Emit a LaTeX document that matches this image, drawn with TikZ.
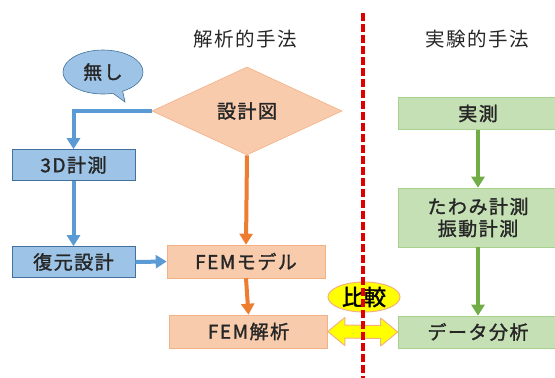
\documentclass[tikz,border=0pt]{standalone}
\usepackage{fontspec}
\setmainfont{Noto Sans CJK JP}[LetterSpace=8, AutoFakeBold=1.5]
\newfontfamily\cmpfont{Noto Sans CJK JP}[AutoFakeBold=2]
\usetikzlibrary{shapes.geometric,shapes.callouts,arrows.meta,calc}
\definecolor{bfill}{HTML}{9DC3E6}
\definecolor{bline}{HTML}{41719C}
\definecolor{barr}{HTML}{5B9BD5}
\definecolor{ofill}{HTML}{F8CBAD}
\definecolor{oline}{HTML}{F4B183}
\definecolor{oarr}{HTML}{ED7D31}
\definecolor{gfill}{HTML}{C5E0B4}
\definecolor{gline}{HTML}{A9D18E}
\definecolor{garr}{HTML}{70AD47}
\definecolor{txt}{HTML}{262626}
\definecolor{ylw}{HTML}{FFFF00}
\definecolor{yline}{HTML}{F4B183}
\definecolor{rdash}{HTML}{E00000}
\tikzset{
  lbl/.style={font=\fontsize{19}{22}\selectfont, text=txt},
  bluebox/.style={lbl, draw=bline, line width=0.6pt, fill=bfill, minimum width=123pt, minimum height=31pt, inner sep=0pt},
  orbox/.style={lbl, draw=oline, line width=0.6pt, fill=ofill, minimum width=158pt, minimum height=33pt, inner sep=0pt},
  grbox/.style={lbl, draw=gline, line width=0.6pt, fill=gfill, inner sep=0pt},
  arr/.style={line width=4pt, -{Triangle[width=13pt,length=11pt]}},
  barrow/.style={arr, draw=barr},
  oarrow/.style={arr, draw=oarr},
  garrow/.style={arr, draw=garr},
}
\begin{document}
\begin{tikzpicture}[x=1pt,y=-1pt]
\useasboundingbox (0,0) rectangle (555,378);
% titles
\node[lbl, font=\fontsize{19.5}{22}\selectfont] (t1) at (245,39) {解析的手法};
\node[lbl, font=\fontsize{19.5}{22}\selectfont] (t2) at (477,39) {実験的手法};
% left column
\node[bluebox] (m3d) at (73.5,165) {\bfseries 3D計測};
\node[bluebox] (rest) at (73.5,262) {\bfseries 復元設計};
% centre column
\node[lbl, diamond, aspect=2.15, fill=ofill, draw=oline, line width=0.6pt, minimum width=190pt, minimum height=88pt, inner sep=0pt] (plan) at (247,111) {\bfseries 設計図};
\node[orbox] (femm) at (246,261.5) {\bfseries FEMモデル};
\node[orbox] (fema) at (248.5,331.5) {\bfseries FEM解析};
% right column
\node[grbox, minimum width=160pt, minimum height=32pt] (meas) at (478,113.5) {\bfseries 実測};
\node[grbox, minimum width=160pt, minimum height=59pt, align=center, font=\fontsize{19}{22}\selectfont\bfseries] (defl) at (478,217.5) {たわみ計測\\振動計測};
\node[grbox, minimum width=160pt, minimum height=32pt] (data) at (478,332) {\bfseries データ分析};
% bubble
\node[lbl, ellipse callout, fill=bfill, draw=bline, line width=0.6pt, minimum width=80pt, minimum height=44pt, inner sep=0pt, callout absolute pointer={(125,102)}] (none) at (103,72) {\bfseries 無し};
% connectors
\draw[barrow] (plan.west) -| (m3d.north);
\draw[barrow] (m3d.south) -- (rest.north);
\draw[barrow] (rest.east) -- (femm.west);
\draw[oarrow] (plan.south) -- (femm.north);
\draw[oarrow] (femm.south) -- (fema.north);
\draw[garrow] (meas.south) -- (defl.north);
\draw[garrow] (defl.south) -- (data.north);
% comparison arrow
\draw[fill=ylw, draw=yline, line width=1pt, line join=round]
  (fema.east) -- ++(17,-14) -- ++(0,7.5) -- ($(data.west)+(-17,-6.5)$) -- ++(0,-7.5) -- (data.west)
  -- ++(-17,14) -- ++(0,-7.5) -- ($(fema.east)+(17,6.5)$) -- ++(0,7.5) -- cycle;
\node[ellipse, fill=ylw, draw=yline, line width=1pt, minimum width=72pt, minimum height=30pt, inner sep=0pt, text=black, font=\cmpfont\fontsize{22}{24}\selectfont\bfseries] (cmp) at (364,297) {比較};
% divider
\coordinate (rtop) at (363,13);
\coordinate (rbot) at (363,380);
\draw[rdash, line width=3.5pt, dash pattern=on 8pt off 3pt] (rtop) -- (rbot);
\end{tikzpicture}
\end{document}
